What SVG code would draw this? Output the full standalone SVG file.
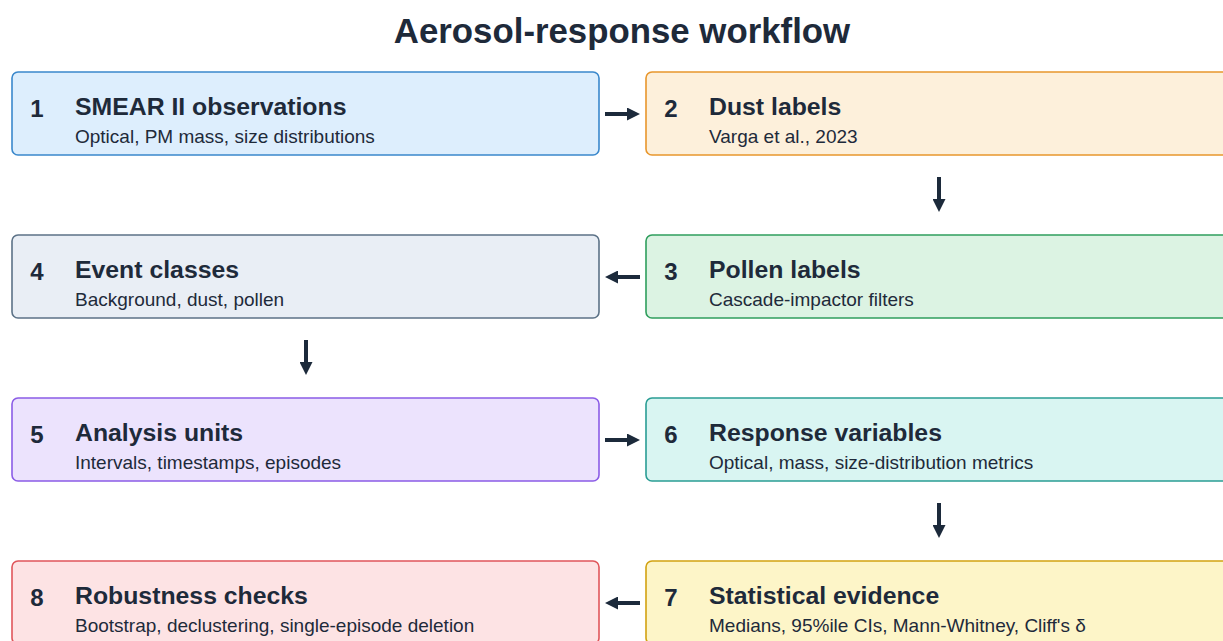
<svg xmlns="http://www.w3.org/2000/svg" width="1223" height="641" viewBox="0 0 1223 641">
<defs>
<marker id="ah" viewBox="0 0 13 13" refX="0" refY="6.5" markerWidth="13" markerHeight="13" orient="auto" markerUnits="userSpaceOnUse">
<path d="M0,0 L13,6.5 L0,13 z" fill="#1c2a3b"/>
</marker>
<style>
.box{stroke-width:1.6}
.num{font-family:"Liberation Sans",Arial,sans-serif;font-weight:bold;font-size:24px;fill:#1e2a3a;text-anchor:middle}
.ttl{font-family:"Liberation Sans",Arial,sans-serif;font-weight:bold;font-size:24.8px;fill:#1e2a3a}
.sub{font-family:"Liberation Sans",Arial,sans-serif;font-size:19px;fill:#1e2a3a}
.conn{stroke:#1c2a3b;stroke-width:4;fill:none;marker-end:url(#ah)}
</style>
</defs>
<rect width="1223" height="641" fill="#ffffff"/>
<text x="622" y="43" text-anchor="middle" font-family="Liberation Sans, Arial, sans-serif" font-weight="bold" font-size="34.8" fill="#1e2a3a">Aerosol-response workflow</text>

<g id="node1">
<rect class="box" x="12" y="72" width="587" height="83" rx="6" fill="#ddeefd" stroke="#3a88cc"/>
<text class="num" x="37" y="117">1</text>
<text class="ttl" x="75" y="115">SMEAR II observations</text>
<text class="sub" x="75" y="143">Optical, PM mass, size distributions</text>
</g>
<g id="node2">
<rect class="box" x="646" y="72" width="587" height="83" rx="6" fill="#fdf0db" stroke="#e8962c"/>
<text class="num" x="671" y="117">2</text>
<text class="ttl" x="709" y="115">Dust labels</text>
<text class="sub" x="709" y="143">Varga et al., 2023</text>
</g>
<g id="node3">
<rect class="box" x="646" y="235" width="587" height="83" rx="6" fill="#dcf3e3" stroke="#2f9e5d"/>
<text class="num" x="671" y="280">3</text>
<text class="ttl" x="709" y="278">Pollen labels</text>
<text class="sub" x="709" y="306">Cascade-impactor filters</text>
</g>
<g id="node4">
<rect class="box" x="12" y="235" width="587" height="83" rx="6" fill="#e9eef5" stroke="#5c7287"/>
<text class="num" x="37" y="280">4</text>
<text class="ttl" x="75" y="278">Event classes</text>
<text class="sub" x="75" y="306">Background, dust, pollen</text>
</g>
<g id="node5">
<rect class="box" x="12" y="398" width="587" height="83" rx="6" fill="#ece3fd" stroke="#8b5ce6"/>
<text class="num" x="37" y="443">5</text>
<text class="ttl" x="75" y="441">Analysis units</text>
<text class="sub" x="75" y="469">Intervals, timestamps, episodes</text>
</g>
<g id="node6">
<rect class="box" x="646" y="398" width="587" height="83" rx="6" fill="#d9f5f2" stroke="#2a9d94"/>
<text class="num" x="671" y="443">6</text>
<text class="ttl" x="709" y="441">Response variables</text>
<text class="sub" x="709" y="469">Optical, mass, size-distribution metrics</text>
</g>
<g id="node7">
<rect class="box" x="646" y="561" width="587" height="83" rx="6" fill="#fdf5c8" stroke="#d2a212"/>
<text class="num" x="671" y="606">7</text>
<text class="ttl" x="709" y="604">Statistical evidence</text>
<text class="sub" x="709" y="632">Medians, 95%ile CIs, Mann-Whitney, Cliff's δ</text>
</g>
<g id="node8">
<rect class="box" x="12" y="561" width="587" height="83" rx="6" fill="#fde3e4" stroke="#e0565b"/>
<text class="num" x="37" y="606">8</text>
<text class="ttl" x="75" y="604">Robustness checks</text>
<text class="sub" x="75" y="632">Bootstrap, declustering, single-episode deletion</text>
</g>

<g id="connectors">
<line class="conn" x1="605" y1="114" x2="627" y2="114"/>
<line class="conn" x1="939" y1="177" x2="939" y2="199"/>
<line class="conn" x1="640" y1="277" x2="618" y2="277"/>
<line class="conn" x1="306" y1="340" x2="306" y2="362"/>
<line class="conn" x1="605" y1="440" x2="627" y2="440"/>
<line class="conn" x1="939" y1="503" x2="939" y2="525"/>
<line class="conn" x1="640" y1="603" x2="618" y2="603"/>
</g>
</svg>
